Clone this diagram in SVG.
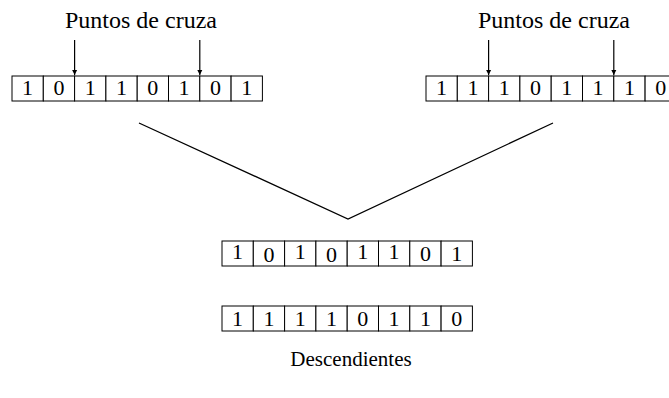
<svg xmlns="http://www.w3.org/2000/svg" width="669" height="398" viewBox="0 0 669 398">
  <defs>
    <style>
      .cell { fill: #fff; stroke: #000; stroke-width: 1; }
      .bit { font-family: "Liberation Serif", "Times New Roman", serif; font-size: 22px; text-anchor: middle; fill: #000; }
      .label { font-family: "Liberation Serif", "Times New Roman", serif; font-size: 24px; text-anchor: middle; fill: #000; }
      .caption { font-family: "Liberation Serif", "Times New Roman", serif; font-size: 21px; text-anchor: middle; fill: #000; }
      .link { fill: none; stroke: #000; stroke-width: 1.3; }
      .pointer { stroke: #000; stroke-width: 1.2; marker-end: url(#head); }
    </style>
    <marker id="head" viewBox="0 0 10 10" refX="10" refY="5" markerWidth="5" markerHeight="9" markerUnits="userSpaceOnUse" orient="auto">
      <path d="M0,0 L10,5 L0,10 Z" fill="#000"/>
    </marker>
    <g id="cells8">
      <rect class="cell" x="0" y="0" width="31.3" height="25"/>
      <rect class="cell" x="31.3" y="0" width="31.3" height="25"/>
      <rect class="cell" x="62.6" y="0" width="31.3" height="25"/>
      <rect class="cell" x="93.9" y="0" width="31.3" height="25"/>
      <rect class="cell" x="125.2" y="0" width="31.3" height="25"/>
      <rect class="cell" x="156.5" y="0" width="31.3" height="25"/>
      <rect class="cell" x="187.8" y="0" width="31.3" height="25"/>
      <rect class="cell" x="219.1" y="0" width="31.3" height="25"/>
    </g>
  </defs>
  <rect width="669" height="398" fill="#fff"/>

  <!-- parent 1 -->
  <g id="parent1">
    <text class="label" x="141" y="28">Puntos de cruza</text>
    <use href="#cells8" x="12" y="76"/>
    <g class="bit">
      <text x="27.6" y="95">1</text><text x="58.9" y="95">0</text><text x="90.2" y="95">1</text><text x="121.5" y="95">1</text>
      <text x="152.8" y="95">0</text><text x="184.1" y="95">1</text><text x="215.4" y="95">0</text><text x="246.7" y="95">1</text>
    </g>
  </g>

  <!-- parent 2 (runs past the right edge) -->
  <g id="parent2">
    <text class="label" x="554" y="28">Puntos de cruza</text>
    <use href="#cells8" x="426" y="76"/>
    <g class="bit">
      <text x="441.6" y="95">1</text><text x="472.9" y="95">1</text><text x="504.2" y="95">1</text><text x="535.5" y="95">0</text>
      <text x="566.8" y="95">1</text><text x="598.1" y="95">1</text><text x="629.4" y="95">1</text><text x="660.7" y="95">0</text>
    </g>
  </g>

  <!-- offspring -->
  <g id="child1">
    <use href="#cells8" x="222" y="241"/>
    <g class="bit">
      <text x="237.6" y="259">1</text><text x="268.9" y="262">0</text><text x="300.2" y="259">1</text><text x="331.5" y="262">0</text>
      <text x="362.8" y="259">1</text><text x="394.1" y="259">1</text><text x="425.4" y="261">0</text><text x="456.7" y="261">1</text>
    </g>
  </g>
  <g id="child2">
    <use href="#cells8" x="222" y="306"/>
    <g class="bit">
      <text x="237.6" y="326">1</text><text x="268.9" y="326">1</text><text x="300.2" y="326">1</text><text x="331.5" y="326">1</text>
      <text x="362.8" y="326">0</text><text x="394.1" y="326">1</text><text x="425.4" y="326">1</text><text x="456.7" y="326">0</text>
    </g>
  </g>
  <g id="caption">
    <text class="caption" x="351" y="366">Descendientes</text>
  </g>

  <!-- connectors -->
  <g id="connectors">
    <line class="pointer" x1="74.6" y1="40" x2="74.6" y2="75"/>
    <line class="pointer" x1="199.8" y1="40" x2="199.8" y2="75"/>
    <line class="pointer" x1="488.6" y1="40" x2="488.6" y2="75"/>
    <line class="pointer" x1="613.8" y1="40" x2="613.8" y2="75"/>
    <polyline class="link" points="139,123 348,219 553,123"/>
  </g>
</svg>
